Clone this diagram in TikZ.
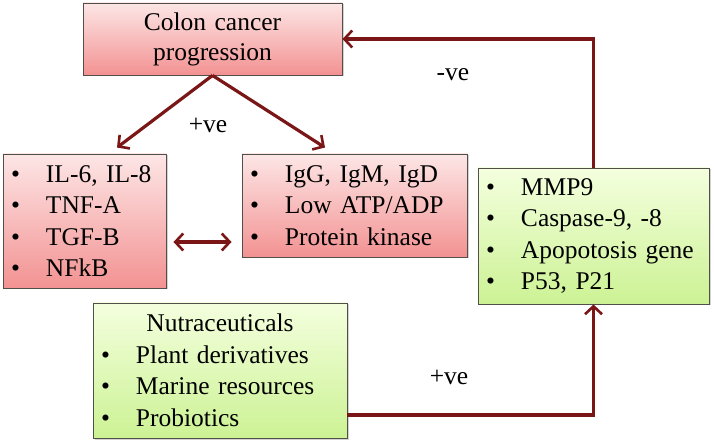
\documentclass[tikz,border=0pt]{standalone}
\usepackage{fontspec}
\setmainfont{Liberation Serif}
\usetikzlibrary{arrows.meta,positioning,shadows}
\definecolor{BOX-RED-TOP}{RGB}{253, 230, 230}
\definecolor{BOX-RED-BOT}{RGB}{243, 146, 146}
\definecolor{BOX-GREEN-TOP}{RGB}{244, 255, 222}
\definecolor{BOX-GREEN-BOT}{RGB}{204, 242, 148}
\definecolor{BOX-EDGE}{RGB}{80, 80, 72}
\definecolor{ARROW-RED}{RGB}{122, 22, 22}

\newcommand{\itm}[1]{\makebox[35pt][l]{\textbullet}#1}

\begin{document}
\begin{tikzpicture}[x=1pt, y=-1pt,
    font=\fontsize{25.5}{31.5}\selectfont,
    box/.style={draw=BOX-EDGE, line width=0.9pt, inner xsep=8pt, inner ysep=0pt,
      drop shadow={shadow xshift=1.5pt, shadow yshift=-1.5pt, opacity=0.35}},
    redbox/.style={box, top color=BOX-RED-TOP, bottom color=BOX-RED-BOT},
    greenbox/.style={box, top color=BOX-GREEN-TOP, bottom color=BOX-GREEN-BOT},
    arr/.style={draw=ARROW-RED, line width=3.2pt,
      -{Straight Barb[length=8pt, width=17pt, line width=2.6pt]}},
    dblarr/.style={arr, {Straight Barb[length=8pt, width=17pt, line width=2.6pt]}-{Straight Barb[length=8pt, width=17pt, line width=2.6pt]}}]
  \useasboundingbox (0,0) rectangle (714,443);

  % Top box
  \node[redbox, align=center, text width=243pt, minimum height=72pt] (ccp) at (212.5,39)
    {Colon cancer\\[-1.5pt]progression};

  % Red boxes
  \node[redbox, align=left, text width=147pt, minimum height=134pt] (cyto) at (84.5,221)
    {\itm{IL-6, IL-8}\\\itm{TNF-A}\\\itm{TGF-B}\\\itm{NFkB}};
  \node[redbox, align=left, text width=209pt, minimum height=103pt] (immu) at (354.5,205.5)
    {\itm{IgG, IgM, IgD}\\\itm{Low ATP/ADP}\\\itm{Protein kinase}};

  % Green boxes
  \node[greenbox, align=left, text width=215pt, minimum height=136pt] (gene) at (593.5,236)
    {\itm{MMP9}\\\itm{Caspase-9, -8}\\\itm{Apopotosis gene}\\\itm{P53, P21}};
  \node[greenbox, align=left, text width=238pt, minimum height=135pt] (nutr) at (220,370.5)
    {\hfill Nutraceuticals\hfill\null\\\itm{Plant derivatives}\\\itm{Marine resources}\\\itm{Probiotics}};

  % Arrows
  \draw[arr] (ccp.south) -- ([xshift=32.5pt, yshift=6pt]cyto.north);
  \draw[arr] (ccp.south) -- ([xshift=-29.5pt, yshift=6pt]immu.north);
  \draw[dblarr, shorten <=7pt, shorten >=10pt] ([yshift=-21pt]cyto.east) -- ([yshift=-21pt]cyto.east -| immu.west);
  \draw[arr] (gene.north) |- (ccp.east);
  \draw[arr] ([yshift=-44.5pt]nutr.east) -| (gene.south);

  % Labels
  \node (posA) at (208,125) {+ve};
  \node (negA) at (453,75) {-ve};
  \node (posB) at (449,377) {+ve};
\end{tikzpicture}
\end{document}
